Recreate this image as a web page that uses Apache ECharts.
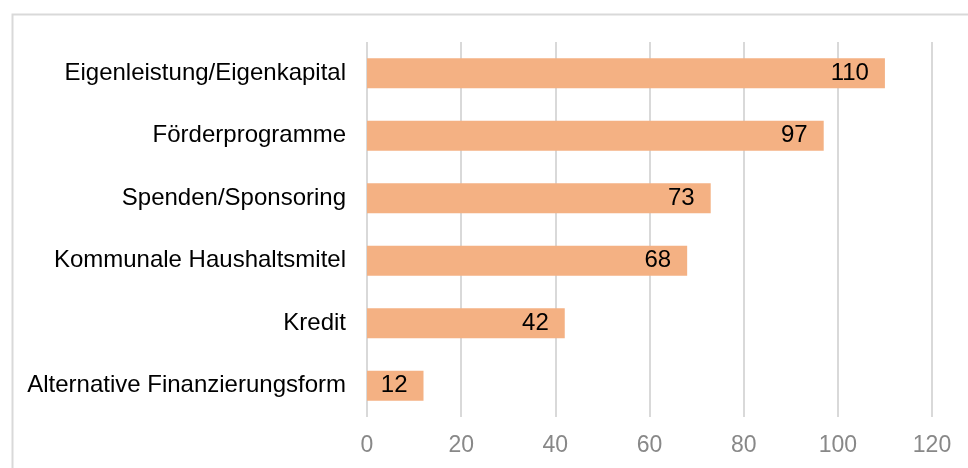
<!DOCTYPE html>
<html>
<head>
<meta charset="utf-8">
<script src="https://cdn.jsdelivr.net/npm/echarts@6/dist/echarts.min.js"></script>
<style>html,body{margin:0;padding:0;background:#fff}#c{width:968px;height:468px}</style>
</head>
<body>
<div id="c"></div>
<script>
var categories = ["Alternative Finanzierungsform", "Kredit", "Kommunale Haushaltsmitel", "Spenden/Sponsoring", "Förderprogramme", "Eigenleistung/Eigenkapital"];
var values = [12, 42, 68, 73, 97, 110];
var xTicks = [0, 20, 40, 60, 80, 100, 120];

var FONT = '"Liberation Sans", Arial, sans-serif';
var chart = echarts.init(document.getElementById('c'), null, {renderer: 'canvas'});
chart.setOption({
  animation: false,
  graphic: [{
    type: 'rect', left: 10, top: 12, shape: {width: 970, height: 470},
    style: {fill: 'none', stroke: '#d9d9d9', lineWidth: 2}, silent: true
  }],
  grid: {left: 367, right: 36, top: 42, bottom: 51, containLabel: false},
  xAxis: {
    type: 'value', min: xTicks[0], max: xTicks[xTicks.length - 1], interval: 20,
    axisLine: {show: false}, axisTick: {show: false},
    splitLine: {lineStyle: {color: '#d9d9d9', width: 2}},
    axisLabel: {color: '#888888', fontSize: 23, fontFamily: FONT, margin: 17}
  },
  yAxis: {
    type: 'category', data: categories,
    axisLine: {show: false}, axisTick: {show: false},
    axisLabel: {color: '#000', fontSize: 24, fontFamily: FONT, margin: 21, padding: [3, 0, 0, 0]}
  },
  series: [{
    type: 'bar', data: values, barWidth: '48%',
    itemStyle: {color: '#F4B183'},
    label: {show: true, position: 'insideRight', color: '#000', fontSize: 24, fontFamily: FONT, distance: 16, padding: [3, 0, 0, 0]}
  }]
});
</script>
</body>
</html>
